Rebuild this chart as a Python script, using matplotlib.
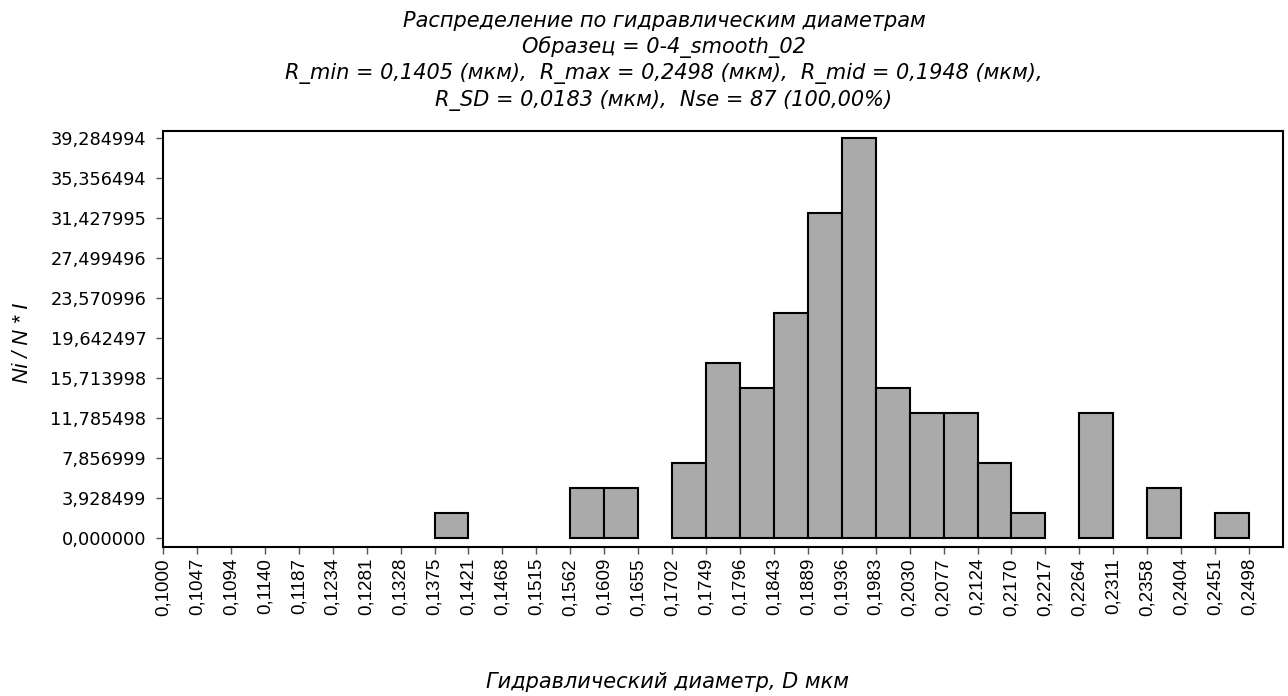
import numpy as np
import matplotlib.pyplot as plt

# bin edges (x tick labels) and bar data
edge_labels = ['0,1000', '0,1047', '0,1094', '0,1140', '0,1187', '0,1234', '0,1281',
               '0,1328', '0,1375', '0,1421', '0,1468', '0,1515', '0,1562', '0,1609',
               '0,1655', '0,1702', '0,1749', '0,1796', '0,1843', '0,1889', '0,1936',
               '0,1983', '0,2030', '0,2077', '0,2124', '0,2170', '0,2217', '0,2264',
               '0,2311', '0,2358', '0,2404', '0,2451', '0,2498']
bar_starts = ['0,1375', '0,1562', '0,1609', '0,1702', '0,1749', '0,1796', '0,1843',
              '0,1889', '0,1936', '0,1983', '0,2030', '0,2077', '0,2124', '0,2170',
              '0,2264', '0,2358', '0,2451']
bar_heights = [2.455, 4.911, 4.911, 7.366, 17.187, 14.732, 22.098,
               31.918, 39.285, 14.732, 12.277, 12.277, 7.366, 2.455,
               12.277, 4.911, 2.455]
y_ticks = [0.0, 3.928499, 7.856999, 11.785498, 15.713998, 19.642497,
           23.570996, 27.499496, 31.427995, 35.356494, 39.284994]

title = ('Распределение по гидравлическим диаметрам\n'
         'Образец = 0-4_smooth_02\n'
         'R_min = 0,1405 (мкм),  R_max = 0,2498 (мкм),  R_mid = 0,1948 (мкм),\n'
         'R_SD = 0,0183 (мкм),  Nse = 87 (100,00%)')

plt.rcParams['font.family'] = ['Liberation Sans', 'DejaVu Sans']

fig = plt.figure(figsize=(12.88, 6.96), dpi=100)
ax = fig.add_axes([0.1266, 0.2141, 0.8695, 0.5977])

pos = [edge_labels.index(s) for s in bar_starts]
ax.bar(pos, bar_heights, width=1.0, align='edge', color='#aaaaaa',
       edgecolor='black', linewidth=1.5)

ax.set_xlim(0, len(edge_labels))
ax.set_ylim(-0.88, 40.0)

ax.set_xticks(np.arange(len(edge_labels)))
ax.set_xticklabels(edge_labels, rotation=90, fontsize=13.5)
ax.set_yticks(y_ticks)
ax.set_yticklabels([f'{v:.6f}'.replace('.', ',') for v in y_ticks], fontsize=12.8,
                   family='DejaVu Sans')
ax.tick_params(direction='out', length=5, width=1, color='#555555', pad=3)
ax.tick_params(axis='y', pad=7)

for sp in ax.spines.values():
    sp.set_linewidth(1.5)

fig.text(0.5155, 0.984, title, ha='center', va='top', fontsize=15,
         family='DejaVu Sans', style='italic', linespacing=1.32)
ax.set_ylabel('Ni / N * I', fontsize=15.5, style='italic')
ax.yaxis.set_label_coords(-0.116, 0.49)
fig.text(0.518, 0.02, 'Гидравлический диаметр, D мкм', ha='center', va='center',
         fontsize=15, family='DejaVu Sans', style='italic')

fig.savefig('out.png', dpi=100)
